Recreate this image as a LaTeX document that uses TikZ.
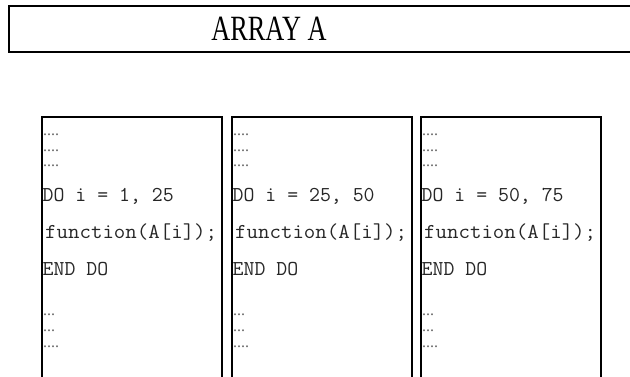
\documentclass[tikz,border=0pt]{standalone}
\usepackage{fontspec}
\newfontfamily\titlefont[FakeStretch=0.74]{Liberation Serif}
\newfontfamily\loopfont{Latin Modern Mono}
\newfontfamily\callfont[FakeStretch=1.05]{Latin Modern Mono}
\newfontfamily\dotfont{Liberation Serif}

\tikzset{
  block/.style={draw, line width=1.6pt, inner sep=0pt, outer sep=0pt},
  loopline/.style={anchor=base west, inner sep=0pt, text=black!85,
    font=\loopfont\fontsize{21.2}{21.2}\selectfont},
  callline/.style={loopline, font=\callfont\fontsize{21.2}{21.2}\selectfont},
  dotline/.style={anchor=base west, inner sep=0pt, text=black!60,
    font=\dotfont\fontsize{16}{16}\selectfont},
}

\begin{document}
\begin{tikzpicture}[x=1pt, y=-1pt]
  \clip (0,0) rectangle (630,376);

  % Le tableau partagé
  \node[block, minimum width=660pt, minimum height=46pt, anchor=north west] (array) at (9,6) {};
  \node[anchor=base, inner sep=0pt, font=\titlefont\fontsize{35.5}{35.5}\selectfont] (title) at (269,40.5) {ARRAY A};

  % Un bloc de boucle par tranche d'indices
  \foreach \n/\x/\lo/\hi in {1/42/1/25, 2/232/25/50, 3/421/50/75} {
    \node[block, minimum width=180pt, minimum height=290pt, anchor=north west] (col\n) at (\x,117) {};
    \node[dotline] (top\n a) at (\x+1,135) {....};
    \node[dotline] (top\n b) at (\x+1,151) {....};
    \node[dotline] (top\n c) at (\x+1,166) {....};
    \node[loopline] (do\n) at (\x+0.5,201) {DO i = \lo, \hi};
    \node[callline] (call\n) at (\x+3,238) {function(A[i]);};
    \node[loopline] (end\n) at (\x+0.5,275) {END DO};
    \node[dotline] (bot\n a) at (\x+1,315) {...};
    \node[dotline] (bot\n b) at (\x+1,331) {...};
    \node[dotline] (bot\n c) at (\x+1,347) {....};
  }
\end{tikzpicture}
\end{document}
